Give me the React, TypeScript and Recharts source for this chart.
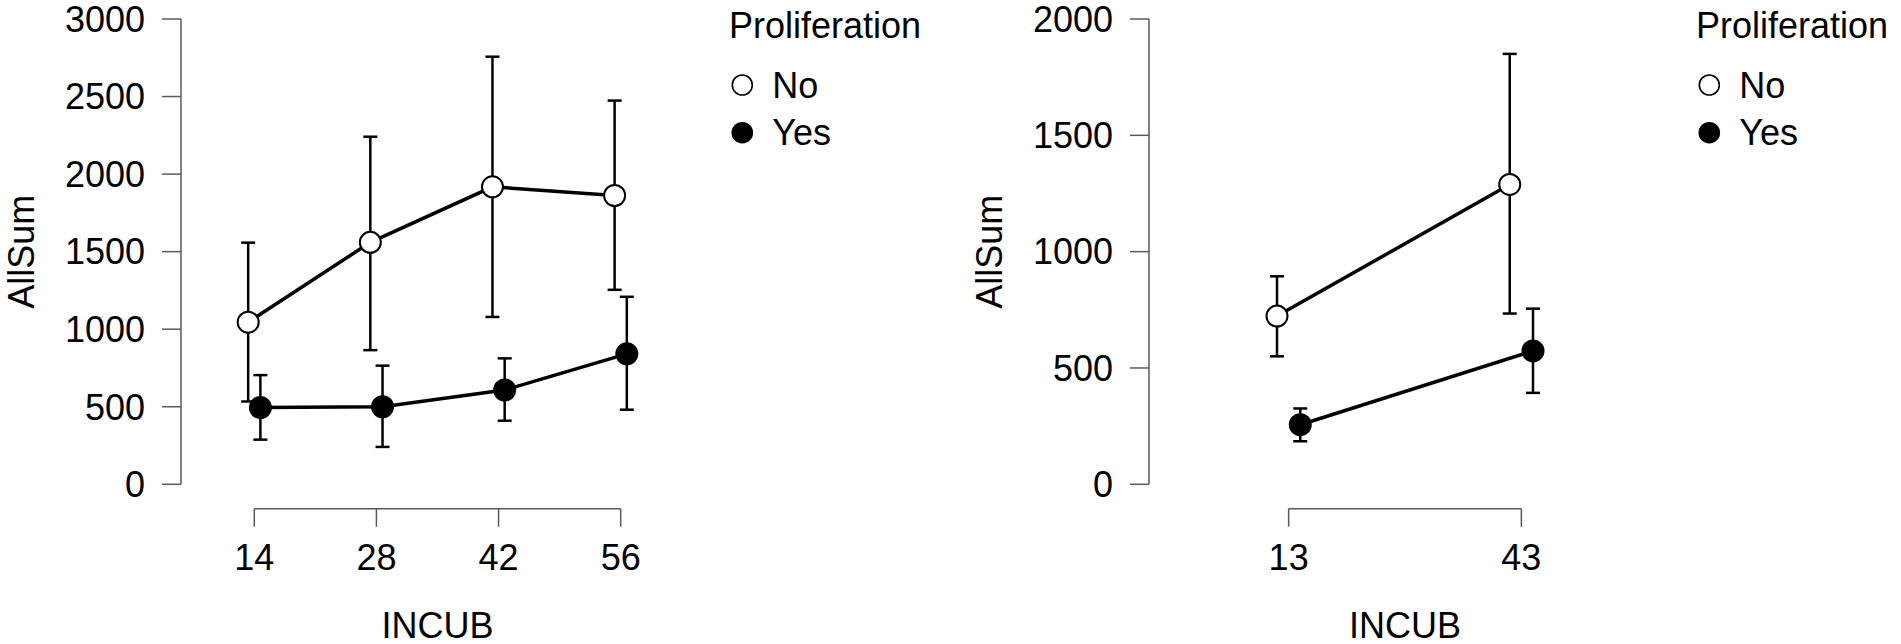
import React from 'react';
import { ErrorBar, Label, Legend, Line, LineChart, ReferenceLine, XAxis, YAxis } from 'recharts';

// left panel
const incubA = ['14', '28', '42', '56'];
const noMeanA = [1045, 1560, 1918, 1862];
const noLowA = [534, 865, 1079, 1254];
const noHighA = [1558, 2241, 2757, 2474];
const yesMeanA = [495, 500, 608, 841];
const yesLowA = [288, 241, 410, 481];
const yesHighA = [704, 765, 812, 1209];
const yTicksA = [0, 500, 1000, 1500, 2000, 2500, 3000];

// right panel
const incubB = ['13', '43'];
const noMeanB = [723, 1289];
const noLowB = [550, 734];
const noHighB = [894, 1850];
const yesMeanB = [256, 573];
const yesLowB = [185, 393];
const yesHighB = [326, 755];
const yTicksB = [0, 500, 1000, 1500, 2000];

const FONT = '"Liberation Sans", Arial, sans-serif';
const AXIS = '#5a5a5a';
const H = 644;
const PLOT_TOP = 19;
const ZERO_Y = 484.3;
const AXIS_Y = 508.7;
const Y_AXIS_W = 120;
const X_PAD = 0.6;
const DODGE = 0.05;

const markerFill: Record<string, string> = { No: '#ffffff', Yes: '#000000' };

const renderLegend = (props: any) => {
	const payload = props.payload || [];
	return (
		<svg width={230} height={160} style={{ overflow: 'visible', display: 'block' }}>
			<text x={0} y={38} fontSize={36} fontFamily={FONT} fill="#000">Proliferation</text>
			{payload.map((entry: any, i: number) => (
				<g key={entry.value}>
					<circle cx={13.3} cy={85 + i * 47.7} r={10} fill={markerFill[entry.value]} stroke="#000" strokeWidth={1.6}/>
					<text x={43.3} y={98.3 + i * 46.7} fontSize={36} fontFamily={FONT} fill="#000">{entry.value}</text>
				</g>
			))}
		</svg>
	);
};

type PanelProps = {
	left: number;
	width: number;
	plotLeft: number;
	plotRight: number;
	labels: string[];
	noMean: number[];
	noLow: number[];
	noHigh: number[];
	yesMean: number[];
	yesLow: number[];
	yesHigh: number[];
	yTicks: number[];
};

const Panel = (p: PanelProps) => {
	const n = p.labels.length;
	const yMax = p.yTicks[p.yTicks.length - 1];
	const yMin = -(AXIS_Y - ZERO_Y) * yMax / (ZERO_Y - PLOT_TOP);
	const xDomain = [-X_PAD, n - 1 + X_PAD];
	const data = p.labels.map((label, i) => ({
		pos: i,
		label,
		no: p.noMean[i],
		noErr: [p.noMean[i] - p.noLow[i], p.noHigh[i] - p.noMean[i]],
		yes: p.yesMean[i],
		yesErr: [p.yesMean[i] - p.yesLow[i], p.yesHigh[i] - p.yesMean[i]],
	}));
	const tickStyle = { fill: '#000', fontSize: 36, fontFamily: FONT };

	return (
		<div style={{ position: 'absolute', left: p.left, top: 0 }}>
			<LineChart width={p.width} height={H} data={data}
					   margin={{ top: PLOT_TOP, bottom: 0, left: p.plotLeft - Y_AXIS_W, right: p.width - p.plotRight }}>
				<XAxis xAxisId="main" type="number" dataKey="pos" domain={xDomain} ticks={data.map(d => d.pos)}
					   tickFormatter={(v) => p.labels[v]} interval={0} axisLine={false}
					   tickLine={{ stroke: AXIS, strokeWidth: 1.5 }} tickSize={18} tickMargin={18}
					   height={H - AXIS_Y} tick={tickStyle}>
					<Label value="INCUB" position="insideBottom" offset={6.5} fill="#000" fontSize={36} fontFamily={FONT}/>
				</XAxis>
				<XAxis xAxisId="no" type="number" dataKey="pos" domain={[xDomain[0] + DODGE, xDomain[1] + DODGE]} hide/>
				<XAxis xAxisId="yes" type="number" dataKey="pos" domain={[xDomain[0] - DODGE, xDomain[1] - DODGE]} hide/>
				<YAxis type="number" domain={[yMin, yMax]} ticks={p.yTicks} interval={0} width={Y_AXIS_W}
					   axisLine={false} tickLine={{ stroke: AXIS, strokeWidth: 1.5 }} tickSize={19} tickMargin={17}
					   tick={tickStyle}>
					<Label value="AllSum" angle={-90} position="center" dx={-100} dy={-12} fill="#000" fontSize={36} fontFamily={FONT}/>
				</YAxis>
				<ReferenceLine xAxisId="main" segment={[{ x: xDomain[0], y: 0 }, { x: xDomain[0], y: yMax }]}
							   stroke={AXIS} strokeWidth={1.5} ifOverflow="visible"/>
				<ReferenceLine xAxisId="main" segment={[{ x: 0, y: yMin }, { x: n - 1, y: yMin }]}
							   stroke={AXIS} strokeWidth={1.5} ifOverflow="visible"/>
				<Legend content={renderLegend} layout="horizontal" align="center" verticalAlign="middle"
						wrapperStyle={{ left: p.plotRight + 35, top: 0, width: 230, height: 160 }}/>
				<Line xAxisId="yes" type="linear" dataKey="yes" name="Yes" stroke="#000" strokeWidth={3.5}
					  dot={{ r: 10.5, fill: '#000', stroke: '#000', strokeWidth: 2 }} activeDot={false}
					  isAnimationActive={false} legendType="circle">
					<ErrorBar dataKey="yesErr" direction="y" width={7} stroke="#000" strokeWidth={2.5}/>
				</Line>
				<Line xAxisId="no" type="linear" dataKey="no" name="No" stroke="#000" strokeWidth={3.5}
					  dot={{ r: 10.5, fill: '#fff', stroke: '#000', strokeWidth: 2 }} activeDot={false}
					  isAnimationActive={false} legendType="circle">
					<ErrorBar dataKey="noErr" direction="y" width={7} stroke="#000" strokeWidth={2.5}/>
				</Line>
			</LineChart>
		</div>
	);
};

const App = () => {
	return (
		<div style={{ position: 'absolute', left: 0, top: 0, width: 1901, height: H, background: '#fff' }}>
			<Panel left={0} width={950} plotLeft={181} plotRight={694} labels={incubA}
				   noMean={noMeanA} noLow={noLowA} noHigh={noHighA}
				   yesMean={yesMeanA} yesLow={yesLowA} yesHigh={yesHighA} yTicks={yTicksA}/>
			<Panel left={950} width={951} plotLeft={199} plotRight={711} labels={incubB}
				   noMean={noMeanB} noLow={noLowB} noHigh={noHighB}
				   yesMean={yesMeanB} yesLow={yesLowB} yesHigh={yesHighB} yTicks={yTicksB}/>
		</div>
	);
};

export default App;
